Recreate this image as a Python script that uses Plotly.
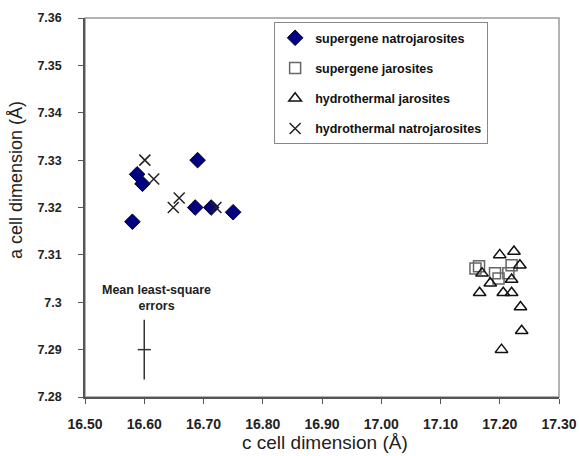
import plotly.graph_objects as go

# ---- data ----
sn_c = [16.580, 16.588, 16.597, 16.690, 16.686, 16.713, 16.750]
sn_a = [7.317, 7.327, 7.325, 7.330, 7.320, 7.320, 7.319]

sj_c = [17.159, 17.165, 17.192, 17.198, 17.2145, 17.220]
sj_a = [7.3071, 7.3076, 7.3061, 7.3050, 7.3061, 7.3078]

hj_c = [17.200, 17.224, 17.234, 17.170, 17.184, 17.220, 17.166, 17.206, 17.220, 17.235, 17.237, 17.203]
hj_a = [7.310, 7.3107, 7.3078, 7.3061, 7.304, 7.3048, 7.302, 7.302, 7.302, 7.299, 7.294, 7.290]

hn_c = [16.601, 16.616, 16.649, 16.659, 16.721]
hn_a = [7.330, 7.326, 7.320, 7.322, 7.320]

err_c = [16.60]
err_a = [7.29]
err_dc = [0.011]
err_da = [0.0063]

x_ticks = [16.5, 16.6, 16.7, 16.8, 16.9, 17.0, 17.1, 17.2, 17.3]
x_labels = ["16.50", "16.60", "16.70", "16.80", "16.90", "17.00", "17.10", "17.20", "17.30"]
y_ticks = [7.28, 7.29, 7.30, 7.31, 7.32, 7.33, 7.34, 7.35, 7.36]
y_labels = ["7.28", "7.29", "7.3", "7.31", "7.32", "7.33", "7.34", "7.35", "7.36"]

names = ["supergene natrojarosites", "supergene jarosites",
         "hydrothermal jarosites", "hydrothermal natrojarosites"]

FONT = "Liberation Sans, Arial, sans-serif"

fig = go.Figure()

# error cross
fig.add_trace(go.Scatter(
    x=err_c, y=err_a, mode="markers", showlegend=False,
    marker=dict(size=1, color="rgba(0,0,0,0)"),
    error_x=dict(type="data", array=err_dc, color="#333333", thickness=1.5, width=0),
    error_y=dict(type="data", array=err_da, color="#333333", thickness=1.5, width=0),
    hoverinfo="skip"))

fig.add_trace(go.Scatter(
    x=sn_c, y=sn_a, mode="markers", name=names[0], legendgroup="g1",
    marker=dict(symbol="diamond", size=12, color="#000080",
                line=dict(color="#00002a", width=1))))
fig.add_trace(go.Scatter(
    x=sj_c, y=sj_a, mode="markers", name=names[1], legendgroup="g2",
    marker=dict(symbol="square-open", size=11, color="#666666",
                line=dict(color="#666666", width=1.5))))
fig.add_trace(go.Scatter(
    x=hj_c, y=hj_a, mode="markers", name=names[2], legendgroup="g3",
    marker=dict(symbol="triangle-up-open", size=11, color="#111111",
                line=dict(color="#111111", width=1.5))))
fig.add_trace(go.Scatter(
    x=hn_c, y=hn_a, mode="markers", name=names[3], legendgroup="g4",
    marker=dict(symbol="x-thin-open", size=11, color="#222222",
                line=dict(color="#222222", width=1.5))))

fig.update_layout(
    width=579, height=456,
    margin=dict(l=85, r=20, t=18, b=59, autoexpand=False),
    paper_bgcolor="white", plot_bgcolor="white",
    font=dict(family=FONT, color="#222222"),
    showlegend=True,
    legend=dict(x=0.399, y=0.989, xanchor="left", yanchor="top",
                bgcolor="white", bordercolor="#888888", borderwidth=1,
                font=dict(family=FONT, size=12.5, color="#111111", weight="bold"),
                traceorder="grouped", tracegroupgap=11, itemwidth=30),
    xaxis=dict(range=[16.5, 17.3], tickvals=x_ticks, ticktext=x_labels,
               automargin=False,
               showgrid=False, zeroline=False, showline=True,
               linecolor="#555555", linewidth=1.5,
               ticks="outside", ticklen=5, tickcolor="#555555",
               ticklabelstandoff=8,
               tickfont=dict(family=FONT, size=14, color="#222222", weight="bold")),
    yaxis=dict(range=[7.28, 7.36], tickvals=y_ticks, ticktext=y_labels,
               automargin=False,
               showgrid=False, zeroline=False, showline=True,
               linecolor="#555555", linewidth=1.5,
               ticks="outside", ticklen=5, tickcolor="#555555",
               ticklabelstandoff=14,
               tickfont=dict(family=FONT, size=12.5, color="#222222", weight="bold")),
    shapes=[dict(type="rect", xref="paper", yref="paper", x0=0, y0=0, x1=1, y1=1,
                 line=dict(color="#999999", width=1.5), layer="below")],
    annotations=[
        dict(text="c cell dimension (Å)", xref="paper", yref="paper",
             x=0.506, y=-0.121, xanchor="center", yanchor="middle", showarrow=False,
             font=dict(family=FONT, size=19, color="#222222")),
        dict(text="a cell dimension (Å)", xref="paper", yref="paper",
             x=-0.1456, y=0.5726, xanchor="center", yanchor="middle", showarrow=False,
             textangle=-90, font=dict(family=FONT, size=18, color="#222222")),
        dict(text="Mean least-square<br>errors", xref="x", yref="y",
             x=16.62, y=7.301, xanchor="center", yanchor="middle", showarrow=False,
             font=dict(family=FONT, size=12.5, color="#222222", weight="bold")),
    ],
)

fig.write_html("out.html")
